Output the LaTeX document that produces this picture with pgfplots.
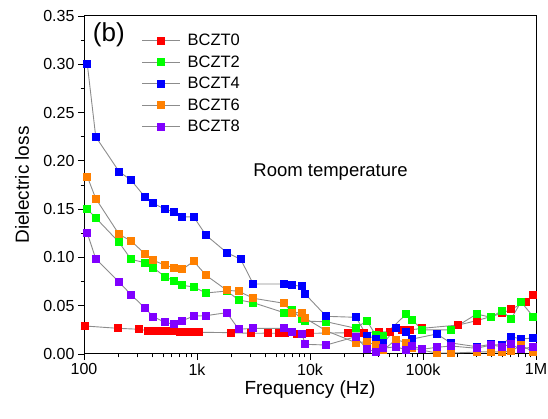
\documentclass[border=0pt]{standalone}
\usepackage{fontspec}
\setmainfont{Liberation Sans}
\usepackage{pgfplots}
\pgfplotsset{compat=1.18}
\usetikzlibrary{calc}

\definecolor{sOrange}{RGB}{255,128,0}
\definecolor{sPurple}{RGB}{128,0,255}
\definecolor{lineGray}{RGB}{140,140,140}

\pgfplotsset{
  lossplot/.style={color=lineGray, line width=0.9pt, mark=square*, mark size=3.5pt,
    mark options={solid, fill=#1, draw=#1}},
}

\begin{document}
\begin{tikzpicture}
\begin{axis}[
  name=ax,
  scale only axis,
  width=452pt, height=338pt,
  xmode=log,
  xmin=100, xmax=1000000,
  ymin=0, ymax=0.35,
  xtick={100,1000,10000,100000,1000000},
  xticklabels={100,1k,10k,100k,1M},
  ytick={0,0.05,0.1,0.15,0.2,0.25,0.3,0.35},
  minor y tick num=1,
  yticklabel style={/pgf/number format/.cd, fixed, fixed zerofill, precision=2, assume math mode=true},
  tick label style={font=\fontsize{16}{19}\selectfont},
  tick align=outside,
  tick pos=left,
  major tick length=6pt,
  minor tick length=3.5pt,
  every tick/.style={black, line width=0.9pt},
  axis line style={black, line width=1pt},
  xlabel={Frequency (Hz)},
  ylabel={Dielectric loss},
  label style={font=\fontsize{19}{22}\selectfont},
  xlabel style={at={(axis description cs:0.5,-0.104)}, anchor=center},
  ylabel style={at={(axis description cs:-0.137,0.5)}, anchor=center},
  legend cell align=left,
  legend style={draw=none, fill=none, font=\fontsize{16.5}{19.5}\selectfont,
    at={(axis description cs:0.125,0.956)}, anchor=north west,
    row sep=4.5pt, inner sep=1pt,
    /tikz/every odd column/.append style={column sep=5pt}},
  legend image code/.code={\draw[mark repeat=2,mark phase=2,#1]
    plot coordinates {(0pt,0pt) (19pt,0pt) (38pt,0pt)};},
]

% BCZT0
\addplot[lossplot=red] coordinates {
(102,0.0290) (199,0.0266) (309,0.0256) (368,0.0241) (410,0.0241) (452,0.0240)
(500,0.0240) (554,0.0238) (613,0.0238) (708,0.0228) (783,0.0228) (867,0.0226)
(960,0.0226) (1042,0.0225) (1987,0.0221) (2987,0.0214) (4276,0.0216) (5317,0.0214)
(6016,0.0214) (7626,0.0210) (9991,0.0214) (21812,0.0220) (30050,0.0220) (41030,0.0230)
(51070,0.0230) (64740,0.0249) (76710,0.0249) (98600,0.0266) (205300,0.0300)
(298400,0.0345) (497000,0.0420) (601000,0.0463) (810700,0.0540) (946000,0.0610)
};
\addlegendentry{BCZT0}

% BCZT2
\addplot[lossplot=green] coordinates {
(107,0.1500) (127,0.1410) (204,0.1157) (261,0.0980) (344,0.0946) (410,0.0894)
(521,0.0800) (630,0.0756) (742,0.0711) (935,0.0694) (1202,0.0632) (1834,0.0652)
(2338,0.0560) (3148,0.0531) (5890,0.0428) (6888,0.0456) (8495,0.0360) (9085,0.0340)
(13934,0.0334) (25530,0.0266) (31770,0.0345) (38130,0.0197) (44530,0.0186)
(71200,0.0414) (80390,0.0352) (98600,0.0250) (176900,0.0250) (298400,0.0414)
(399600,0.0380) (497000,0.0448) (601000,0.0362) (737000,0.0540) (946000,0.0386)
};
\addlegendentry{BCZT2}

% BCZT4
\addplot[lossplot=blue] coordinates {
(107,0.3000) (127,0.2250) (204,0.1890) (261,0.1800) (344,0.1630) (410,0.1560)
(521,0.1500) (630,0.1470) (742,0.1420) (935,0.1420) (1202,0.1230) (1834,0.1050)
(2437,0.0980) (3148,0.0725) (5890,0.0725) (6888,0.0715) (8495,0.0700) (9085,0.0620)
(13934,0.0390) (25530,0.0380) (31770,0.0190) (38130,0.0160) (44530,0.0110)
(57650,0.0270) (71200,0.0230) (80390,0.0155) (132200,0.0207) (176900,0.0114)
(298400,0.0076) (399600,0.0100) (497000,0.0090) (601000,0.0180) (737000,0.0155)
(946000,0.0166)
};
\addlegendentry{BCZT4}

% BCZT6
\addplot[lossplot=sOrange] coordinates {
(107,0.1836) (127,0.1610) (204,0.1240) (261,0.1170) (344,0.1040) (410,0.0970)
(521,0.0920) (630,0.0890) (742,0.0877) (935,0.0960) (1202,0.0815) (1834,0.0660)
(2338,0.0650) (3148,0.0577) (5890,0.0525) (6888,0.0430) (8495,0.0428) (9085,0.0370)
(13934,0.0240) (25530,0.0117) (31770,0.0127) (38130,0.0093) (44530,0.0040)
(57650,0.0150) (71200,0.0117) (80390,0.0060) (132200,0.0010) (176900,0.0010)
(298400,0.0020) (399600,0.0024) (497000,0.0020) (601000,0.0030) (737000,0.0090)
(946000,0.0024)
};
\addlegendentry{BCZT6}

% BCZT8
\addplot[lossplot=sPurple] coordinates {
(107,0.1250) (127,0.0987) (204,0.0746) (261,0.0614) (344,0.0480) (410,0.0386)
(521,0.0328) (630,0.0307) (742,0.0345) (935,0.0393) (1202,0.0397) (1834,0.0428)
(2338,0.0256) (3148,0.0266) (5890,0.0266) (6888,0.0230) (8495,0.0204) (9085,0.0100)
(13934,0.0093) (25530,0.0180) (31770,0.0052) (38130,0.0024) (44530,0.0059)
(57650,0.0076) (71200,0.0041) (80390,0.0083) (98600,0.0049) (132200,0.0069)
(176900,0.0083) (298400,0.0059) (399600,0.0093) (497000,0.0076) (601000,0.0100)
(737000,0.0049) (946000,0.0076)
};
\addlegendentry{BCZT8}

\node[anchor=center, font=\fontsize{26}{30}\selectfont]
  at (axis description cs:0.055,0.944) {(b)};
\node[anchor=west, font=\fontsize{18.5}{22}\selectfont]
  at (axis description cs:0.367,0.5385) {Room temperature};
\end{axis}
\pgfresetboundingbox
\path ($(ax.south west)+(-84pt,-65pt)$) rectangle ($(ax.north east)+(12pt,16pt)$);
\end{tikzpicture}
\end{document}
